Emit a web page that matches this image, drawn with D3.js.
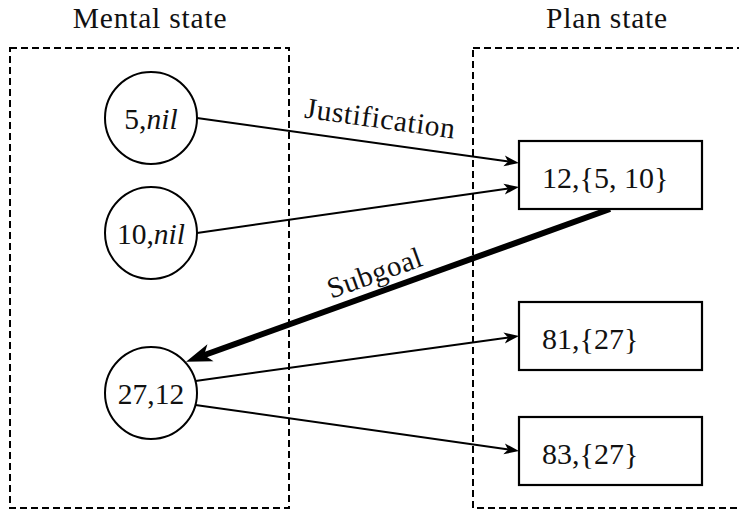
<!DOCTYPE html>
<html>
<head>
<meta charset="utf-8">
<script src="https://cdn.jsdelivr.net/npm/d3@7/dist/d3.min.js"></script>
<style>
  html, body { margin: 0; padding: 0; background: #fff; }
  svg { display: block; }
  text { font-family: "Liberation Serif", "DejaVu Serif", serif; fill: #111; }
</style>
</head>
<body>
<svg id="chart" width="739" height="511"></svg>
<script>
// ---- data ----
const groupTitles = ["Mental state", "Plan state"];
const mentalIds = ["m5", "m10", "m27"];
const mentalNums = ["5", "10", "27"];
const mentalJust = ["nil", "nil", "12"];          // italic when "nil"
const planIds = ["p12", "p81", "p83"];
const planNums = ["12", "81", "83"];
const planSupports = ["{5, 10}", "{27}", "{27}"];
// edges
const edgeFrom  = ["m5",  "m10", "p12",  "m27", "m27"];
const edgeTo    = ["p12", "p12", "m27",  "p81", "p83"];
const edgeLabel = ["Justification", "", "Subgoal", "", ""];
const edgeKind  = ["thin", "thin", "thick", "thin", "thin"];

// ---- layout (positions kept separate from data) ----
const svg = d3.select("#chart");
const mentalY = d3.scaleOrdinal().domain(mentalIds).range([118, 233, 393]);
const planY = d3.scaleOrdinal().domain(planIds).range([175, 336, 451]);
const circleCx = 151, circleR = 46;
const rectX0 = 519, rectX1 = 702, rectH = 68;

const groups = [
  {title: groupTitles[0], x0: 10, x1: 289, tx: 150},
  {title: groupTitles[1], x0: 473, x1: 760, tx: 607}
];
const boxY0 = 48, boxY1 = 508;

svg.selectAll("rect.group").data(groups).join("rect")
  .attr("class", "group")
  .attr("x", d => d.x0).attr("y", boxY0)
  .attr("width", d => d.x1 - d.x0).attr("height", boxY1 - boxY0)
  .attr("fill", "none").attr("stroke", "#000")
  .attr("stroke-width", 2).attr("stroke-dasharray", "7,4");

svg.selectAll("text.title").data(groups).join("text")
  .attr("class", "title")
  .attr("x", d => d.tx).attr("y", 28)
  .attr("text-anchor", "middle")
  .attr("font-size", 29.5).attr("letter-spacing", 0.8)
  .text(d => d.title);

// ---- nodes ----
const mental = mentalIds.map((id, i) => ({id, num: mentalNums[i], just: mentalJust[i], cx: circleCx, cy: mentalY(id)}));
const plan = planIds.map((id, i) => ({id, num: planNums[i], sup: planSupports[i], cy: planY(id)}));

const thinOffsets = {"m5>p12": [0, -12], "m10>p12": [0, 12], "m27>p81": [-12, 0], "m27>p83": [12, 0]};

const edges = edgeFrom.map((f, i) => {
  const t = edgeTo[i];
  const key = f + ">" + t;
  const fm = mental.find(n => n.id === f), tp = plan.find(n => n.id === t);
  const fp = plan.find(n => n.id === f), tm = mental.find(n => n.id === t);
  let x1, y1, x2, y2;
  if (fm && tp) {
    const off = thinOffsets[key];
    const sy = fm.cy + off[0];
    const dy = sy - fm.cy;
    x1 = fm.cx + Math.sqrt(circleR * circleR - dy * dy); y1 = sy;
    x2 = rectX0; y2 = tp.cy + off[1];
  } else {
    x1 = 610; y1 = fp.cy + rectH / 2;
    const a = -Math.PI / 4.3;
    x2 = tm.cx + (circleR + 1) * Math.cos(a) ; y2 = tm.cy + (circleR + 1) * Math.sin(a);
  }
  return {x1, y1, x2, y2, label: edgeLabel[i], kind: edgeKind[i]};
});

function headPath(e, len, half) {
  const ang = Math.atan2(e.y2 - e.y1, e.x2 - e.x1);
  const c = Math.cos(ang), s = Math.sin(ang);
  const pt = (u, v) => [e.x2 + u * c - v * s, e.y2 + u * s + v * c];
  const tip = pt(0, 0), b1 = pt(-len, -half), b2 = pt(-len, half), notch = pt(-len * 0.72, 0);
  return `M${tip}L${b1}Q${pt(-len*0.8,-half*0.2)} ${notch}Q${pt(-len*0.8,half*0.2)} ${b2}Z`;
}

edges.forEach(e => {
  const thick = e.kind === "thick";
  const len = thick ? 26 : 15, half = thick ? 9 : 5.5;
  const ang = Math.atan2(e.y2 - e.y1, e.x2 - e.x1);
  const shorten = len * 0.7;
  svg.append("line")
    .attr("x1", e.x1).attr("y1", e.y1)
    .attr("x2", e.x2 - shorten * Math.cos(ang)).attr("y2", e.y2 - shorten * Math.sin(ang))
    .attr("stroke", "#000").attr("stroke-width", thick ? 6 : 2);
  svg.append("path").attr("d", headPath(e, len, half)).attr("fill", "#000");
  if (e.label) {
    const deg = ang * 180 / Math.PI;
    const rot = thick ? deg + 180 : deg;
    const mx = thick ? 378 : 379, my = thick ? 282 : 128;
    svg.append("text")
      .attr("transform", `translate(${mx},${my}) rotate(${rot})`)
      .attr("text-anchor", "middle")
      .attr("font-size", thick ? 29 : 29.5).attr("letter-spacing", 0.6)
      .text(e.label);
  }
});

// circles
const cg = svg.selectAll("g.mental").data(mental).join("g").attr("class", "mental");
cg.append("circle").attr("cx", d => d.cx).attr("cy", d => d.cy).attr("r", circleR)
  .attr("fill", "#fff").attr("stroke", "#000").attr("stroke-width", 2);
const ct = cg.append("text").attr("x", d => d.cx).attr("y", d => d.cy + 11)
  .attr("text-anchor", "middle").attr("font-size", 29.5);
ct.append("tspan").text(d => d.num + ",");
ct.append("tspan").attr("font-style", d => d.just === "nil" ? "italic" : "normal").text(d => d.just);

// plan rects
const pg = svg.selectAll("g.plan").data(plan).join("g").attr("class", "plan");
pg.append("rect").attr("x", rectX0).attr("y", d => d.cy - rectH / 2)
  .attr("width", rectX1 - rectX0).attr("height", rectH)
  .attr("fill", "#fff").attr("stroke", "#000").attr("stroke-width", 2.2);
pg.append("text").attr("x", 542).attr("y", d => d.cy + 13)
  .attr("font-size", 30)
  .text(d => d.num + "," + d.sup);
</script>
</body>
</html>
